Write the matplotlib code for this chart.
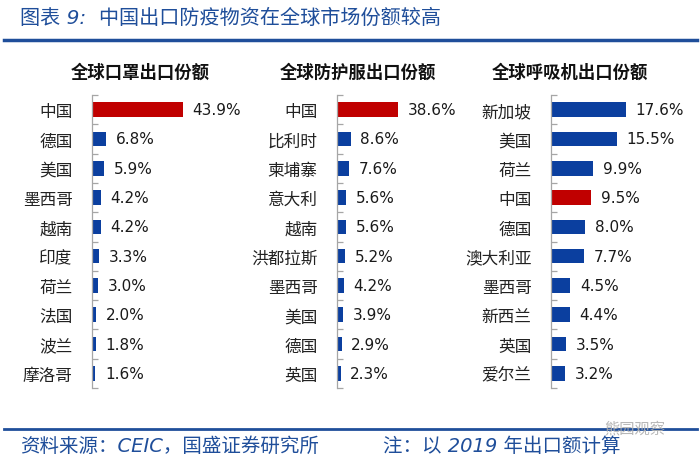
import matplotlib
matplotlib.use('Agg')
import matplotlib.pyplot as plt
from matplotlib.lines import Line2D

plt.rcParams['font.family'] = ['Noto Sans CJK SC', 'DejaVu Sans']

mask_countries = ['中国', '德国', '美国', '墨西哥', '越南', '印度', '荷兰', '法国', '波兰', '摩洛哥']
mask_share = [43.9, 6.8, 5.9, 4.2, 4.2, 3.3, 3.0, 2.0, 1.8, 1.6]

suit_countries = ['中国', '比利时', '柬埔寨', '意大利', '越南', '洪都拉斯', '墨西哥', '美国', '德国', '英国']
suit_share = [38.6, 8.6, 7.6, 5.6, 5.6, 5.2, 4.2, 3.9, 2.9, 2.3]

vent_countries = ['新加坡', '美国', '荷兰', '中国', '德国', '澳大利亚', '墨西哥', '新西兰', '英国', '爱尔兰']
vent_share = [17.6, 15.5, 9.9, 9.5, 8.0, 7.7, 4.5, 4.4, 3.5, 3.2]

panel_titles = ['全球口罩出口份额', '全球防护服出口份额', '全球呼吸机出口份额']
title_text = '图表 9:  中国出口防疫物资在全球市场份额较高'
source_text = '资料来源：CEIC，国盛证券研究所'
note_text = '注：以 2019 年出口额计算'

RED = '#C00000'
BLUE = '#0B3F9F'
DARKBLUE = '#1F4E9A'

W, H = 700, 460
fig = plt.figure(figsize=(7, 4.6), dpi=100)
fig.patch.set_facecolor('white')

# (left px, width px, xmax, title centre px)
panels = [
    (92, 103.5, 50, 140, mask_countries, mask_share),
    (337, 79, 50, 358, suit_countries, suit_share),
    (551, 85.2, 20, 570, vent_countries, vent_share),
]

ax_top_px, ax_bot_px = 96, 389
for i, (lpx, wpx, xmax, tcx, cats, vals) in enumerate(panels):
    ax = fig.add_axes([lpx / W, 1 - ax_bot_px / H, wpx / W, (ax_bot_px - ax_top_px) / H])
    n = len(cats)
    ypos = list(range(n))
    colors = [RED if c == '中国' else BLUE for c in cats]
    ax.barh(ypos, vals, height=0.5, color=colors)
    ax.set_xlim(0, xmax)
    ax.set_ylim(n - 0.5, -0.5)
    for sp in ['top', 'right', 'bottom']:
        ax.spines[sp].set_visible(False)
    ax.spines['left'].set_color('#A6A6A6')
    ax.spines['left'].set_linewidth(0.9)
    ax.set_xticks([])
    ax.set_yticks(ypos)
    ax.set_yticklabels(cats, fontsize=12, color='#222222')
    ax.tick_params(axis='y', which='major', length=0, pad=14)
    ax.set_yticks([k - 0.5 for k in range(n + 1)], minor=True)
    ax.tick_params(axis='y', which='minor', direction='in', length=4, color='#A6A6A6', width=0.9)
    for y, v in zip(ypos, vals):
        ax.annotate(f'{v:.1f}%', xy=(v, y), xytext=(7, 0), textcoords='offset points',
                    ha='left', va='center', fontsize=11, family=['DejaVu Sans'],
                    color='#1a1a1a', annotation_clip=False)
    fig.text(tcx / W, 1 - 73 / H, panel_titles[i], ha='center', va='center',
             fontsize=12.5, fontweight='bold', color='#111111')

# Header
fig.text(20 / W, 1 - 18 / H, title_text, ha='left', va='center', fontsize=14.5,
         style='italic', color=DARKBLUE, family=['DejaVu Sans', 'Noto Sans CJK SC'])
fig.add_artist(Line2D([0.005, 0.995], [1 - 41 / H, 1 - 41 / H], color=DARKBLUE, lw=2.5,
                      transform=fig.transFigure))

# Footer
fig.add_artist(Line2D([0.005, 0.995], [1 - 430 / H, 1 - 430 / H], color=DARKBLUE, lw=2.0,
                      transform=fig.transFigure))
fig.text(20 / W, 1 - 446 / H, source_text, ha='left', va='center', fontsize=14,
         style='italic', color=DARKBLUE, family=['DejaVu Sans', 'Noto Sans CJK SC'])
fig.text(383 / W, 1 - 446 / H, note_text, ha='left', va='center', fontsize=14,
         style='italic', color=DARKBLUE, family=['DejaVu Sans', 'Noto Sans CJK SC'])
fig.text(604 / W, 1 - 429 / H, '熊园观察', ha='left', va='center', fontsize=11,
         color='#B0B0B0', alpha=0.9)

fig.savefig('out.png', dpi=100, facecolor='white')
